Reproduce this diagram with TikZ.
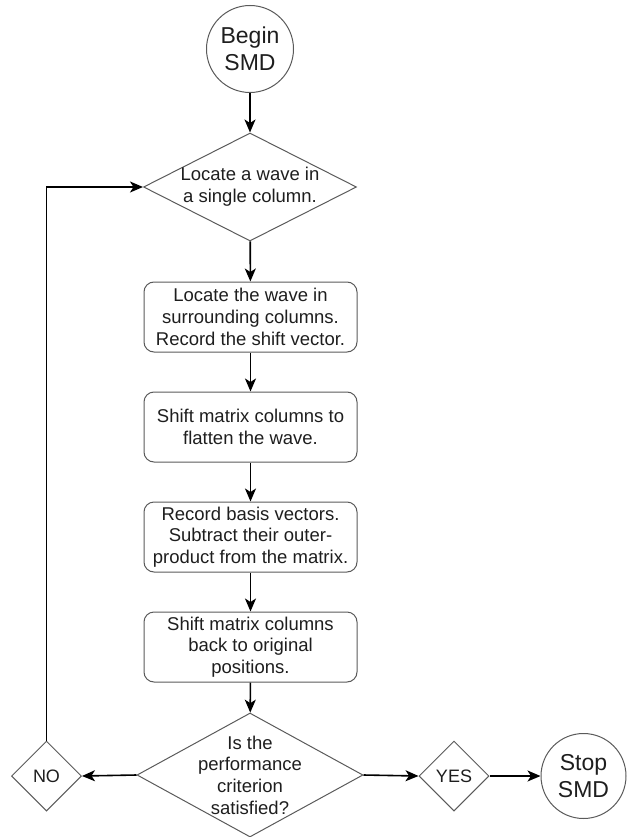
\documentclass[tikz,border=0pt]{standalone}
\usepackage{fontspec}
\setmainfont{Liberation Sans}
\usetikzlibrary{shapes.geometric,arrows.meta}
\definecolor{edgegray}{HTML}{5A5A5A}
\definecolor{inkcol}{HTML}{1E1E1E}
\tikzset{
  x=1pt, y=-1pt,
  shapeline/.style={draw=edgegray, line width=1pt, text=inkcol},
  stepbox/.style={shapeline, rectangle, rounded corners=10pt,
    minimum width=213pt, minimum height=70pt, inner sep=0pt,
    align=center, font=\fontsize{18.5}{21.7}\selectfont},
  termcirc/.style={shapeline, circle, minimum size=87pt, inner sep=0pt,
    align=center, font=\fontsize{23}{27}\selectfont},
  decide/.style={shapeline, diamond, inner sep=0pt},
  decidetext/.style={align=center, text=inkcol, font=\fontsize{18.5}{21.7}\selectfont},
  flow/.style={draw=black, line width=1.6pt,
    -{Stealth[length=13pt, width=11pt, inset=3.5pt]}},
}
\begin{document}
\begin{tikzpicture}
\useasboundingbox (0,0) rectangle (626,837);

% start and end terminals
\node[termcirc] (begin) at (250,49) {Begin\\SMD};
\node[termcirc, minimum size=85pt] (stop) at (583.5,776) {Stop\\SMD};

% first decision: find a wave
\node[decide, minimum width=213pt, minimum height=108pt,
      label={[decidetext]center:Locate a wave in\\a single column.}]
      (locate) at (250,187) {};

% processing steps
\node[stepbox] (surround) at (250.5,317) {Locate the wave in\\surrounding columns.\\Record the shift vector.};
\node[stepbox] (flatten)  at (250.5,427) {Shift matrix columns to\\flatten the wave.};
\node[stepbox] (basis)    at (250.5,537) {Record basis vectors.\\Subtract their outer-\\product from the matrix.};
\node[stepbox] (back)     at (250.5,647) {Shift matrix columns\\back to original\\positions.};

% stopping test
\node[decide, minimum width=226pt, minimum height=124pt,
      label={[decidetext]center:Is the\\performance\\criterion\\satisfied?}]
      (test) at (250,775) {};

% answers
\node[decide, minimum width=70pt, minimum height=70pt,
      label={[decidetext, font=\fontsize{18}{21}\selectfont]center:NO}]
      (no) at (46.5,776) {};
\node[decide, minimum width=70pt, minimum height=70pt,
      label={[decidetext, font=\fontsize{18}{21}\selectfont]center:YES}]
      (yes) at (454,776) {};

% connectors
\draw[flow] (begin) -- (locate);
\draw[flow] (locate) -- (surround);
\draw[flow] (surround) -- (flatten);
\draw[flow] (flatten) -- (basis);
\draw[flow] (basis) -- (back);
\draw[flow] (back) -- (test);
\draw[flow] (test.west) -- (no.east);
\draw[flow] (test.east) -- (yes.west);
\draw[flow] (yes.east) -- (stop.west);
\draw[flow] (no.north) |- (locate.west);
\end{tikzpicture}
\end{document}
